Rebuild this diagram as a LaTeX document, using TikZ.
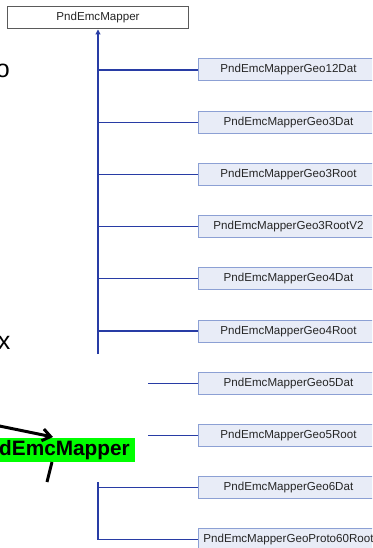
\documentclass[tikz,border=0pt]{standalone}
\usepackage{fontspec}
\setmainfont{Liberation Sans}
\usetikzlibrary{arrows.meta}
\definecolor{edgeblue}{RGB}{40,60,165}
\definecolor{boxfill}{RGB}{232,236,247}
\definecolor{boxline}{RGB}{140,160,212}
\definecolor{basegray}{RGB}{90,90,90}
\definecolor{labelgreen}{RGB}{0,255,0}
\begin{document}
\begin{tikzpicture}[x=1pt,y=-1pt,
  classbox/.style={draw=boxline, fill=boxfill, line width=1pt,
    minimum width=180pt, minimum height=22pt, inner sep=0pt, anchor=west,
    font=\fontsize{11.6}{13}\selectfont, text=black!85},
  basebox/.style={draw=basegray, fill=white, line width=1pt,
    minimum width=181pt, minimum height=22pt, inner sep=0pt,
    font=\fontsize{11.6}{13}\selectfont, text=black!85},
  link/.style={draw=edgeblue, line width=1.1pt},
  note/.style={draw=black, line width=3pt},
  fragment/.style={anchor=base east, inner sep=0pt, font=\fontsize{25}{30}\selectfont}]

\useasboundingbox (0,0) rectangle (372,548);
\clip (0,0) rectangle (372,548);

% base class
\node[basebox] (base) at (98,18) {PndEmcMapper};

% derived classes
\node[classbox] (g1)  at (198,70)    {PndEmcMapperGeo12Dat};
\node[classbox] (g2)  at (198,122.2) {PndEmcMapperGeo3Dat};
\node[classbox] (g3)  at (198,174.4) {PndEmcMapperGeo3Root};
\node[classbox] (g4)  at (198,226.6) {PndEmcMapperGeo3RootV2};
\node[classbox] (g5)  at (198,278.8) {PndEmcMapperGeo4Dat};
\node[classbox] (g6)  at (198,331)   {PndEmcMapperGeo4Root};
\node[classbox] (g7)  at (198,383.2) {PndEmcMapperGeo5Dat};
\node[classbox] (g8)  at (198,435.4) {PndEmcMapperGeo5Root};
\node[classbox] (g9)  at (198,487.6) {PndEmcMapperGeo6Dat};
\node[classbox] (g10) at (198,539.8) {PndEmcMapperGeoProto60Root};

% inheritance trunk with arrow into the base class
\coordinate (trunkend) at (98,354);
\draw[link, -{Triangle[length=5pt,width=5pt]}] (trunkend) -- (base.south);
\foreach \i in {1,...,6} {
  \draw[link] (base.south |- g\i.west) -- (g\i.west);
}

% short stubs
\coordinate (stub7) at (148,383.2);
\coordinate (stub8) at (148,435.4);
\draw[link] (stub7) -- (g7.west);
\draw[link] (stub8) -- (g8.west);

% lower branch
\coordinate (lowtrunk) at (98,482);
\draw[link] (lowtrunk) |- (g10.west);
\draw[link] (lowtrunk |- g9.west) -- (g9.west);

% text fragments on the left
\node[fragment] (frag1) at (10,78) {o};
\node[fragment] (frag2) at (10.5,349) {x};

% highlighted label with pointers
\node[fill=labelgreen, inner xsep=5pt, inner ysep=0pt, minimum height=24pt,
      anchor=east, font=\bfseries\fontsize{20.8}{24}\selectfont] (tag) at (135,450) {dEmcMapper};

\coordinate (p1) at (-3,425.5);
\coordinate (p2) at (53,437);
\draw[note, -{Straight Barb[length=8pt,width=12pt]}] (p1) -- (p2);

\coordinate (q1) at (52,462);
\coordinate (q2) at (47,482);
\draw[note] (q1) -- (q2);
\end{tikzpicture}
\end{document}
